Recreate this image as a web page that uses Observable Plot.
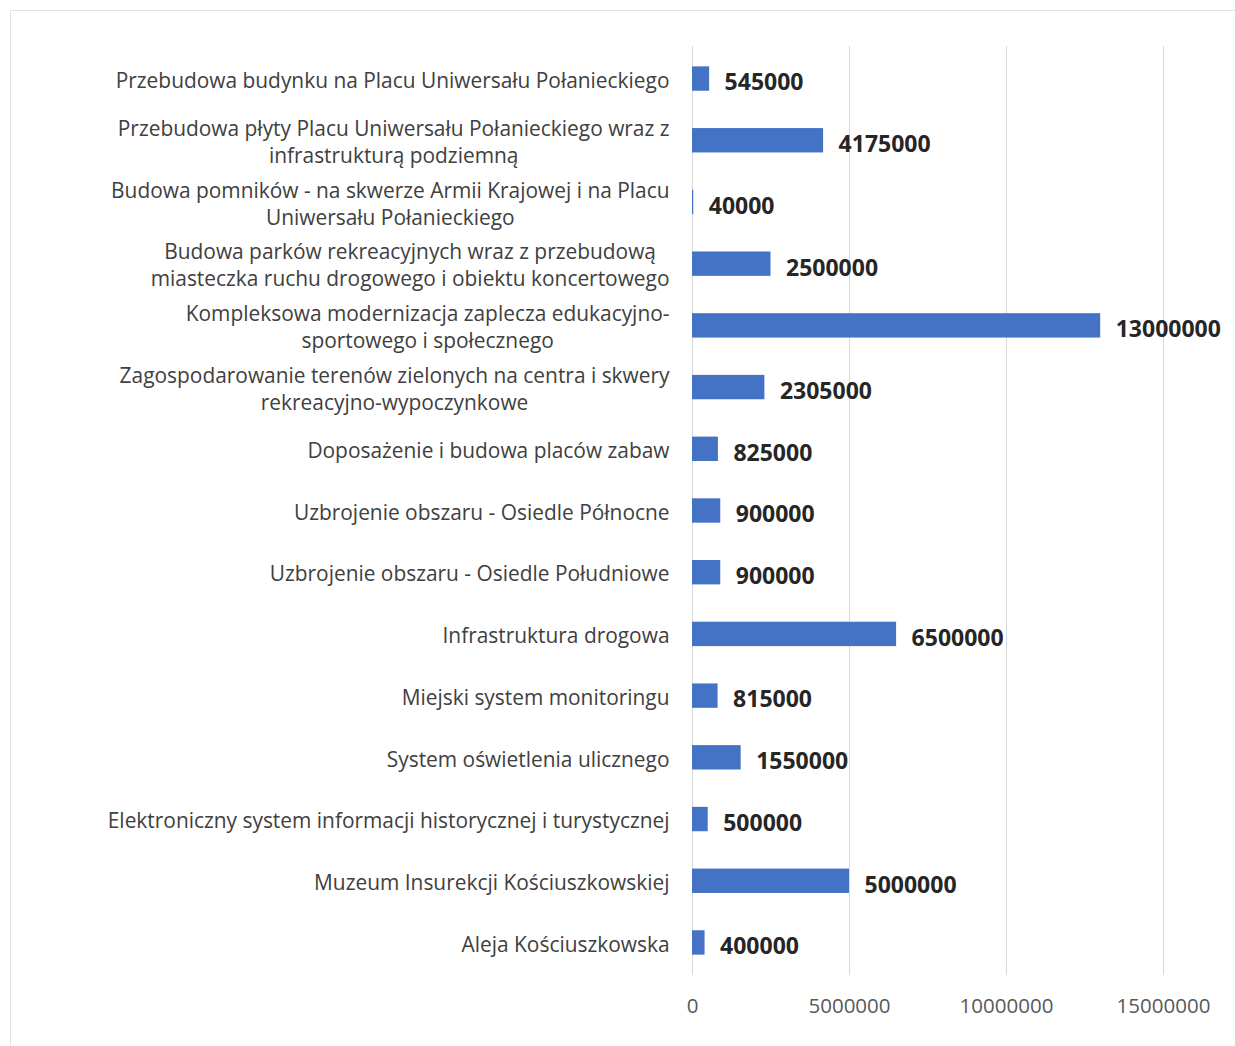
<!DOCTYPE html>
<html>
<head>
<meta charset="utf-8">
<script src="https://cdn.jsdelivr.net/npm/d3@7"></script>
<script src="https://cdn.jsdelivr.net/npm/@observablehq/plot@0.6"></script>
<style>
  body { margin: 0; background: #fff; }
  #wrap { position: relative; width: 1235px; height: 1046px; overflow: hidden; }
  #border { position: absolute; left: 10px; top: 10px; width: 1240px; height: 1060px; border: 1px solid #e3e3e3; pointer-events: none; }
</style>
</head>
<body>
<div id="wrap"><div id="border"></div></div>
<script>
const categories = [
  "Przebudowa budynku na Placu Uniwersału Połanieckiego",
  "Przebudowa płyty Placu Uniwersału Połanieckiego wraz z\ninfrastrukturą podziemną",
  "Budowa pomników - na skwerze Armii Krajowej i na Placu\nUniwersału Połanieckiego",
  "Budowa parków rekreacyjnych wraz z przebudową\nmiasteczka ruchu drogowego i obiektu koncertowego",
  "Kompleksowa modernizacja zaplecza edukacyjno-\nsportowego i społecznego",
  "Zagospodarowanie terenów zielonych na centra i skwery\nrekreacyjno-wypoczynkowe",
  "Doposażenie i budowa placów zabaw",
  "Uzbrojenie obszaru - Osiedle Północne",
  "Uzbrojenie obszaru - Osiedle Południowe",
  "Infrastruktura drogowa",
  "Miejski system monitoringu",
  "System oświetlenia ulicznego",
  "Elektroniczny system informacji historycznej i turystycznej",
  "Muzeum Insurekcji Kościuszkowskiej",
  "Aleja Kościuszkowska"
];
const values = [545000, 4175000, 40000, 2500000, 13000000, 2305000, 825000, 900000, 900000, 6500000, 815000, 1550000, 500000, 5000000, 400000];
const xTicks = [0, 5000000, 10000000, 15000000];

const data = categories.map((c, i) => ({category: c, value: values[i]}));

const chart = Plot.plot({
  width: 1235,
  height: 1046,
  marginLeft: 692,
  marginRight: 72,
  marginTop: 46,
  marginBottom: 71,
  style: {fontFamily: "'Open Sans', sans-serif", background: "transparent"},
  x: {domain: [0, 15000000], ticks: xTicks, label: null},
  y: {domain: categories, paddingInner: 0.605, paddingOuter: 0.33, round: false, axis: null, label: null},
  marks: [
    Plot.ruleX(xTicks, {stroke: "#d9d9d9", strokeWidth: 1}),
    Plot.barX(data, {x: "value", y: "category", fill: "#4472C4"}),
    Plot.text(data, {
      x: "value", y: "category", text: d => String(d.value),
      textAnchor: "start", dx: 15, dy: 4,
      fontSize: 23, fontWeight: "bold", fill: "#262626"
    }),
    Plot.text(data, {
      x: 0, y: "category", text: "category",
      textAnchor: "end", dx: -23, lineHeight: 1.3,
      fontSize: 20.9, fill: "#404040", className: "catlabels"
    }),
    Plot.axisX(xTicks, {
      tickSize: 0, tickPadding: 23, fontSize: 20.5, fill: "#595959",
      tickFormat: d => String(d), label: null
    })
  ]
});
document.getElementById("wrap").appendChild(chart);

// Center wrapped lines relative to the widest line (as in the original)
chart.querySelectorAll("g.catlabels text").forEach(t => {
  const spans = t.querySelectorAll("tspan");
  if (spans.length < 2) return;
  const widths = Array.from(spans).map(s => s.getComputedTextLength());
  const maxW = Math.max(...widths);
  t.setAttribute("text-anchor", "middle");
  spans.forEach(s => s.setAttribute("x", String(-maxW / 2)));
});
</script>
</body>
</html>
